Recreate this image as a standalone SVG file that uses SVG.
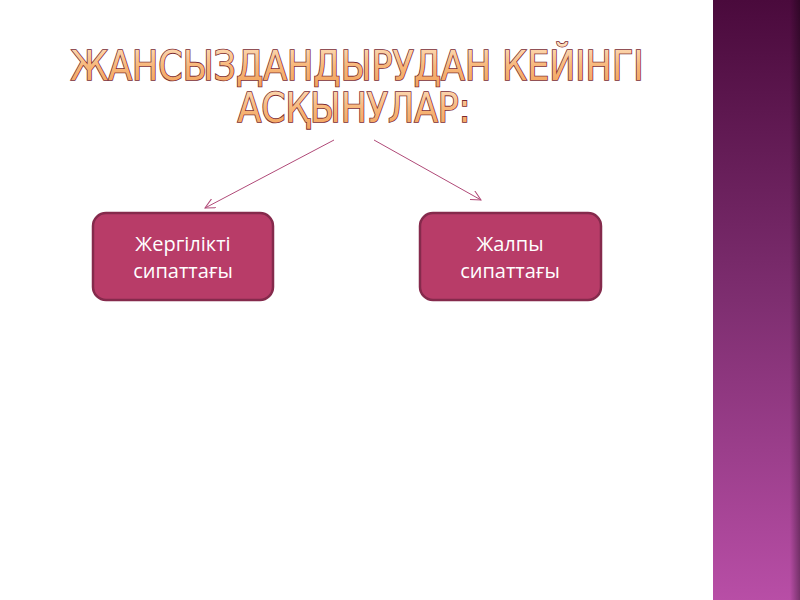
<svg xmlns="http://www.w3.org/2000/svg" width="800" height="600" viewBox="0 0 800 600">
<defs>
<linearGradient id="bar" x1="0" y1="0" x2="0" y2="1">
<stop offset="0" stop-color="#4a0a3c"/>
<stop offset="0.5" stop-color="#7e2e70"/>
<stop offset="1" stop-color="#b84ea6"/>
</linearGradient>
<linearGradient id="edge" x1="0" y1="0" x2="1" y2="0">
<stop offset="0" stop-color="#000" stop-opacity="0"/>
<stop offset="1" stop-color="#000" stop-opacity="0.35"/>
</linearGradient>
<linearGradient id="tg" x1="0" y1="0" x2="0" y2="1">
<stop offset="0" stop-color="#fde2c2"/>
<stop offset="0.5" stop-color="#f7b77a"/>
<stop offset="1" stop-color="#f1a058"/>
</linearGradient>
<marker id="arr" markerWidth="12" markerHeight="12" refX="10" refY="5" orient="auto" markerUnits="userSpaceOnUse">
<path d="M0,0 L10,5 L0,10" fill="none" stroke="#b04a78" stroke-width="1"/>
</marker>
<style>
.title{font-family:"DejaVu Sans Condensed","DejaVu Sans",sans-serif;font-stretch:condensed;font-weight:normal;font-size:41px;fill:url(#tg);stroke:#7a2a30;stroke-width:1.6;paint-order:stroke;text-anchor:middle}
.box{fill:#b83c68;stroke:#852a4c;stroke-width:2.5}
.lbl{font-family:"Open Sans",sans-serif;font-size:20px;fill:#fff;text-anchor:middle}
.conn{stroke:#b04a78;stroke-width:1;fill:none}
</style>
</defs>
<rect width="800" height="600" fill="#fff"/>
<rect x="713" y="0" width="87" height="600" fill="url(#bar)"/>
<rect x="790" y="0" width="10" height="600" fill="url(#edge)"/>
<g id="title">
<text class="title" x="357" y="80" textLength="573" lengthAdjust="spacingAndGlyphs">ЖАНСЫЗДАНДЫРУДАН КЕЙІНГІ</text>
<text class="title" x="354" y="122" textLength="233" lengthAdjust="spacingAndGlyphs">АСҚЫНУЛАР:</text>
</g>
<g id="connectors">
<line class="conn" x1="334" y1="140" x2="205" y2="208" marker-end="url(#arr)"/>
<line class="conn" x1="374" y1="140" x2="481" y2="200" marker-end="url(#arr)"/>
</g>
<g id="node-local">
<rect class="box" x="93" y="213" width="180" height="87" rx="13"/>
<text class="lbl" x="183" y="251">Жергілікті</text>
<text class="lbl" x="183" y="278">сипаттағы</text>
</g>
<g id="node-general">
<rect class="box" x="420" y="213" width="181" height="87" rx="13"/>
<text class="lbl" x="510" y="251">Жалпы</text>
<text class="lbl" x="510" y="278">сипаттағы</text>
</g>
</svg>
